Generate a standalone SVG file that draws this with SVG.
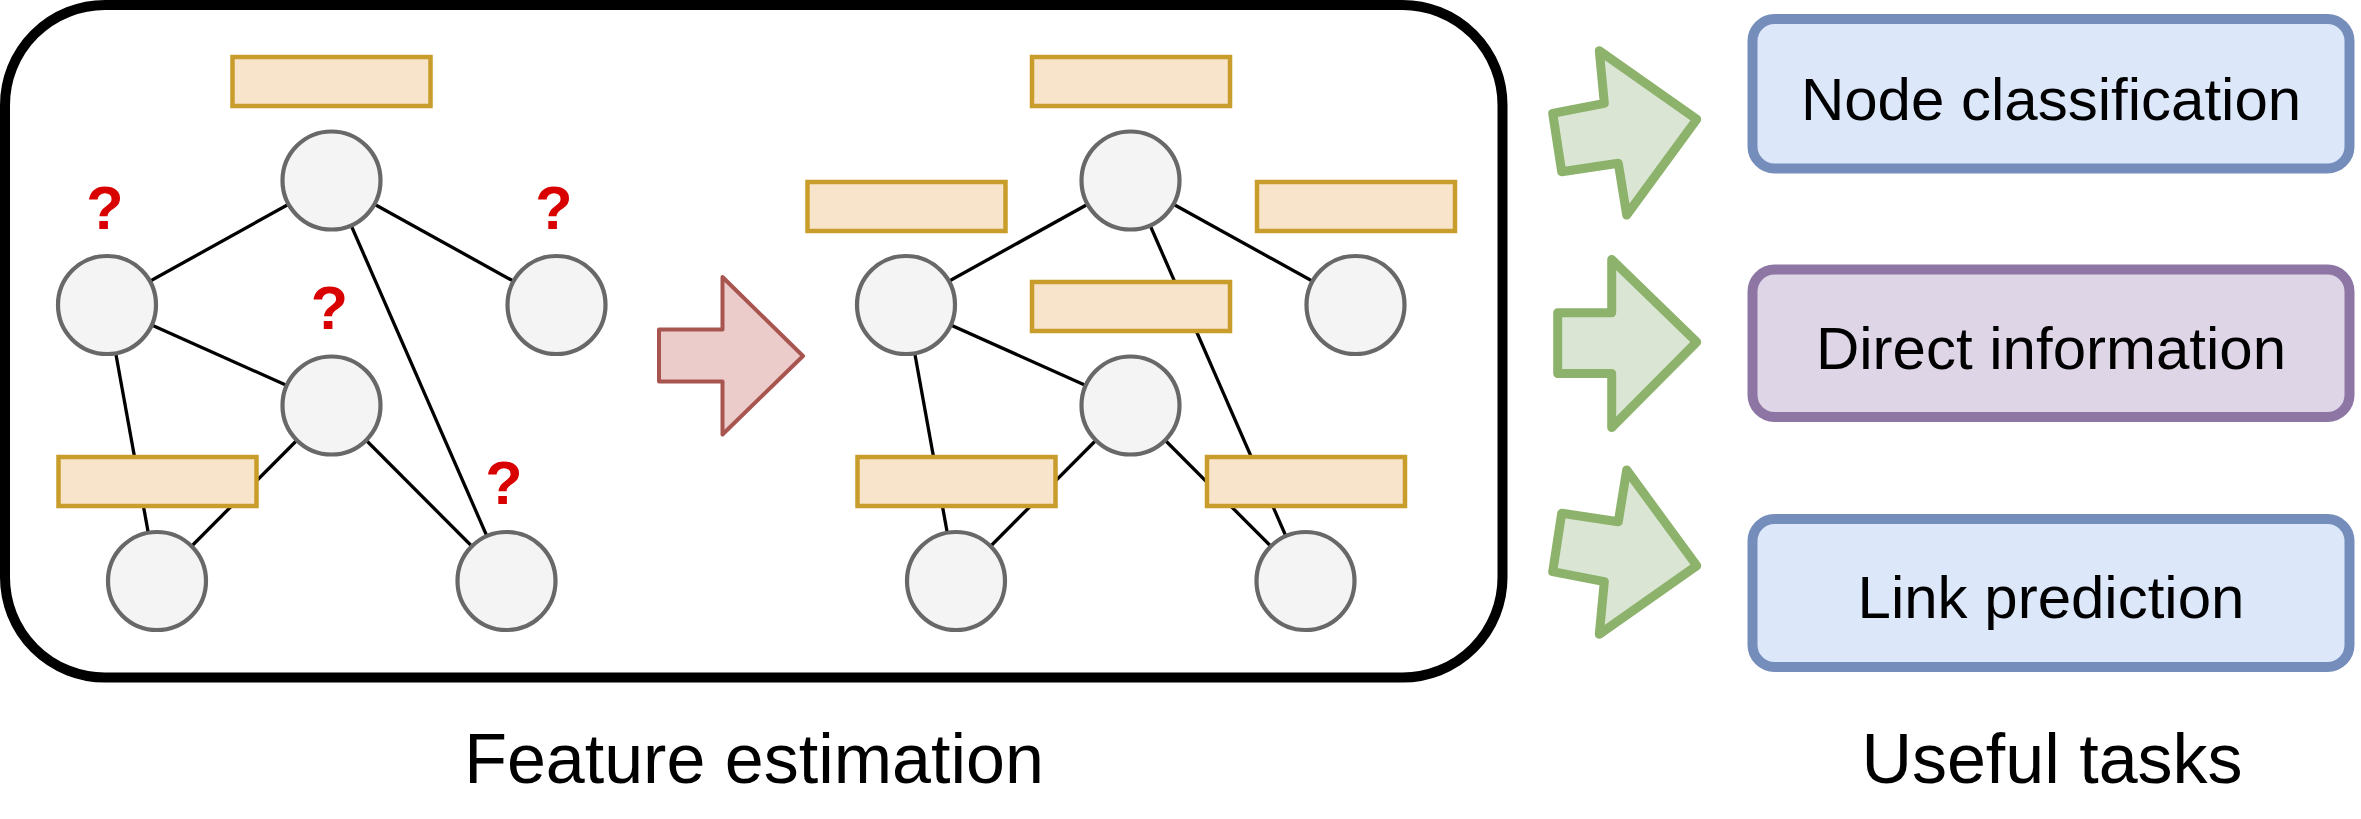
<svg xmlns="http://www.w3.org/2000/svg" width="2361" height="819" viewBox="0 0 2361 819">
<style>
.frame{fill:#ffffff;stroke:#000000;stroke-width:10}
.edge{stroke:#000000;stroke-width:3.3;fill:none}
.node{fill:#f4f4f4;stroke:#686868;stroke-width:4.2}
.feat{fill:#f8e4cb;stroke:#c99d2b;stroke-width:4.5}
.q{font-family:"Liberation Sans",Arial,sans-serif;font-weight:bold;font-size:61px;fill:#d90000;text-anchor:middle}
.redarrow{fill:#ebcccb;stroke:#a85550;stroke-width:4;stroke-linejoin:round}
.greenarrow{fill:#dae6d3;stroke:#8db26b;stroke-width:9;stroke-linejoin:round}
.task{stroke-width:10}
.blue{fill:#dce7fa;stroke:#758dbb}
.purple{fill:#ded5e7;stroke:#8e76a4}
.tasktext{font-family:"Liberation Sans",Arial,sans-serif;font-size:60px;fill:#000000;text-anchor:middle}
.label{font-family:"Liberation Sans",Arial,sans-serif;font-size:70px;fill:#000000;text-anchor:middle}
</style>
<rect width="2361" height="819" fill="#ffffff"/>
<g id="frame"><rect class="frame" x="5" y="5" width="1497.5" height="672.5" rx="100" ry="100"/></g>
<g id="connectors">
  <line class="edge" x1="331.5" y1="180.5" x2="107" y2="305"/>
  <line class="edge" x1="331.5" y1="180.5" x2="556.5" y2="305"/>
  <line class="edge" x1="331.5" y1="180.5" x2="506.5" y2="581"/>
  <line class="edge" x1="107" y1="305" x2="331.5" y2="405.5"/>
  <line class="edge" x1="107" y1="305" x2="157" y2="581"/>
  <line class="edge" x1="331.5" y1="405.5" x2="157" y2="581"/>
  <line class="edge" x1="331.5" y1="405.5" x2="506.5" y2="581"/>
  <line class="edge" x1="1130.5" y1="180.5" x2="906" y2="305"/>
  <line class="edge" x1="1130.5" y1="180.5" x2="1355.5" y2="305"/>
  <line class="edge" x1="1130.5" y1="180.5" x2="1305.5" y2="581"/>
  <line class="edge" x1="906" y1="305" x2="1130.5" y2="405.5"/>
  <line class="edge" x1="906" y1="305" x2="956" y2="581"/>
  <line class="edge" x1="1130.5" y1="405.5" x2="956" y2="581"/>
  <line class="edge" x1="1130.5" y1="405.5" x2="1305.5" y2="581"/>
</g>
<g id="left-graph">
  <g id="l-node-top"><circle class="node" cx="331.5" cy="180.5" r="49"/></g>
  <g id="l-node-left"><circle class="node" cx="107" cy="305" r="49"/></g>
  <g id="l-node-right"><circle class="node" cx="556.5" cy="305" r="49"/></g>
  <g id="l-node-mid"><circle class="node" cx="331.5" cy="405.5" r="49"/></g>
  <g id="l-node-bl"><circle class="node" cx="157" cy="581" r="49"/></g>
  <g id="l-node-br"><circle class="node" cx="506.5" cy="581" r="49"/></g>
  <g id="l-feat-top"><rect class="feat" x="232.5" y="57" width="198" height="49"/></g>
  <g id="l-feat-bl"><rect class="feat" x="58.5" y="457" width="198" height="49"/></g>
  <g id="q-left"><text class="q" x="105" y="228.5">?</text></g>
  <g id="q-right"><text class="q" x="554" y="228.5">?</text></g>
  <g id="q-mid"><text class="q" x="329.5" y="329">?</text></g>
  <g id="q-br"><text class="q" x="504" y="504">?</text></g>
</g>
<g id="estimate-arrow"><polygon class="redarrow" points="659,329.5 722.5,329.5 722.5,277 803,356 722.5,434.5 722.5,381.5 659,381.5"/></g>
<g id="right-graph">
  <g id="r-node-top"><circle class="node" cx="1130.5" cy="180.5" r="49"/></g>
  <g id="r-node-left"><circle class="node" cx="906" cy="305" r="49"/></g>
  <g id="r-node-right"><circle class="node" cx="1355.5" cy="305" r="49"/></g>
  <g id="r-node-mid"><circle class="node" cx="1130.5" cy="405.5" r="49"/></g>
  <g id="r-node-bl"><circle class="node" cx="956" cy="581" r="49"/></g>
  <g id="r-node-br"><circle class="node" cx="1305.5" cy="581" r="49"/></g>
  <g id="r-feat-top"><rect class="feat" x="1032" y="57" width="198" height="49"/></g>
  <g id="r-feat-left"><rect class="feat" x="807.5" y="182" width="198" height="49"/></g>
  <g id="r-feat-right"><rect class="feat" x="1257" y="182" width="198" height="49"/></g>
  <g id="r-feat-mid"><rect class="feat" x="1032" y="282" width="198" height="49"/></g>
  <g id="r-feat-bl"><rect class="feat" x="857.5" y="457" width="198" height="49"/></g>
  <g id="r-feat-br"><rect class="feat" x="1207" y="457" width="198" height="49"/></g>
</g>
<g id="task-arrows">
  <g id="arrow-1"><polygon class="greenarrow" points="1552.7,113.3 1604.3,103.3 1599.3,50.7 1696.7,119.3 1626.7,215 1618.3,163.3 1561.7,171.7"/></g>
  <g id="arrow-2"><polygon class="greenarrow" points="1557.7,312.8 1611.7,312.8 1611.7,259.5 1696.7,342 1611.7,427.5 1611.7,373.5 1557.7,373.5"/></g>
  <g id="arrow-3"><polygon class="greenarrow" points="1552.7,571.7 1604.3,581.7 1599.3,634.3 1696.7,565.7 1626.7,470 1618.3,521.7 1561.7,513.3"/></g>
</g>
<g id="task-node-classification">
  <rect class="task blue" x="1752.5" y="19" width="597" height="149.5" rx="22" ry="22"/>
  <text class="tasktext" x="2051" y="119.5">Node classification</text>
</g>
<g id="task-direct-information">
  <rect class="task purple" x="1752.5" y="269.5" width="597" height="147.5" rx="22" ry="22"/>
  <text class="tasktext" x="2051" y="368.5">Direct information</text>
</g>
<g id="task-link-prediction">
  <rect class="task blue" x="1752.5" y="519" width="597" height="148" rx="22" ry="22"/>
  <text class="tasktext" x="2051" y="618">Link prediction</text>
</g>
<g id="label-feature-estimation"><text class="label" x="754" y="783">Feature estimation</text></g>
<g id="label-useful-tasks"><text class="label" x="2052" y="783">Useful tasks</text></g>
</svg>
